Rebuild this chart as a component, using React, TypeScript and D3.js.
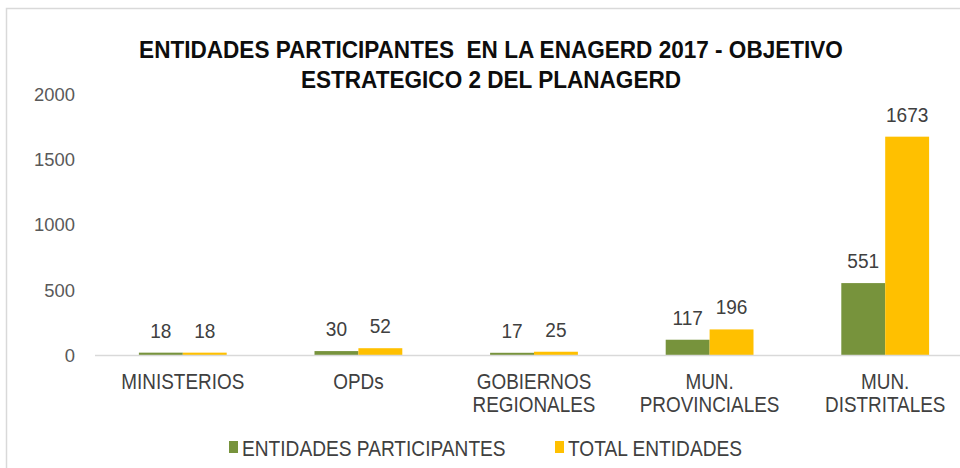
import { useEffect, useRef } from "react";
import * as d3 from "d3";

const categories = ["MINISTERIOS", "OPDs", "GOBIERNOS REGIONALES", "MUN. PROVINCIALES", "MUN. DISTRITALES"];
const categoryLines = [["MINISTERIOS"], ["OPDs"], ["GOBIERNOS", "REGIONALES"], ["MUN.", "PROVINCIALES"], ["MUN.", "DISTRITALES"]];
const participantes = [18, 30, 17, 117, 551];
const totales = [18, 52, 25, 196, 1673];
const yTicks = [0, 500, 1000, 1500, 2000];
const seriesNames = ["ENTIDADES PARTICIPANTES", "TOTAL ENTIDADES"];
const seriesColors = ["#77933C", "#FFC000"];
const titleLines = ["ENTIDADES PARTICIPANTES  EN LA ENAGERD 2017 - OBJETIVO", "ESTRATEGICO 2 DEL PLANAGERD"];

const FONT = "'Liberation Sans', Arial, sans-serif";

const App = () => {
  const svgRef = useRef(null);

  useEffect(() => {
    const svg = d3.select(svgRef.current);
    svg.selectAll("*").remove();

    const width = 960;

    // the source text is a bit narrow / tall, so squeeze it horizontally
    const squeezed = (x, y, sx) =>
      svg.append("g").attr("transform", `translate(${x},${y}) scale(${sx},1)`);

    // chart frame (runs off the right and bottom of the picture)
    svg.append("rect")
      .attr("x", 6.5).attr("y", 8.5)
      .attr("width", 1000).attr("height", 500)
      .attr("fill", "white")
      .attr("stroke", "#d9d9d9")
      .attr("stroke-width", 1.5);

    const x0 = d3.scaleBand().domain(categories).range([95, 973]).paddingInner(0.5).paddingOuter(0.25);
    const x1 = d3.scaleBand().domain(["p", "t"]).range([0, x0.bandwidth()]);
    const y = d3.scaleLinear().domain([0, 2000]).range([355, 94]);

    // title
    titleLines.forEach((line, i) => {
      squeezed(491, 58 + i * 30, 0.94)
        .append("text")
        .attr("text-anchor", "middle")
        .style("font-family", FONT)
        .style("font-size", "24px")
        .style("font-weight", "bold")
        .style("fill", "#0d0d0d")
        .style("white-space", "pre")
        .text(line);
    });

    // y tick labels (no gridlines)
    yTicks.forEach((d) => {
      squeezed(75, y(d), 0.97)
        .append("text")
        .attr("dy", "0.36em")
        .attr("text-anchor", "end")
        .style("font-family", FONT)
        .style("font-size", "19px")
        .style("fill", "#595959")
        .text(d);
    });

    // bars
    const groups = svg.append("g")
      .selectAll("g")
      .data(categories)
      .enter()
      .append("g")
      .attr("transform", (d) => `translate(${x0(d)},0)`);

    groups.each(function (d, i) {
      const g = d3.select(this);
      const vals = [
        { key: "p", value: participantes[i], color: seriesColors[0] },
        { key: "t", value: totales[i], color: seriesColors[1] },
      ];
      g.selectAll("rect")
        .data(vals)
        .enter()
        .append("rect")
        .attr("x", (v) => x1(v.key))
        .attr("y", (v) => y(v.value))
        .attr("width", x1.bandwidth())
        .attr("height", (v) => y(0) - y(v.value))
        .attr("fill", (v) => v.color);

      g.selectAll("g.val")
        .data(vals)
        .enter()
        .append("g")
        .attr("class", "val")
        .attr("transform", (v) => `translate(${x1(v.key) + x1.bandwidth() / 2},${y(v.value) - 15}) scale(0.93,1)`)
        .append("text")
        .attr("text-anchor", "middle")
        .style("font-family", FONT)
        .style("font-size", "20.5px")
        .style("fill", "#404040")
        .text((v) => v.value);
    });

    // baseline
    svg.append("line")
      .attr("x1", 95).attr("x2", width)
      .attr("y1", y(0) + 0.5).attr("y2", y(0) + 0.5)
      .attr("stroke", "#d9d9d9")
      .attr("stroke-width", 1.5);

    // category labels
    categories.forEach((c, i) => {
      categoryLines[i].forEach((line, j) => {
        squeezed(x0(c) + x0.bandwidth() / 2, 389 + j * 23, 0.86)
          .append("text")
          .attr("text-anchor", "middle")
          .style("font-family", FONT)
          .style("font-size", "22px")
          .style("fill", "#404040")
          .text(line);
      });
    });

    // legend
    const legendX = [229, 555];
    seriesNames.forEach((name, i) => {
      svg.append("rect")
        .attr("x", legendX[i])
        .attr("y", 441)
        .attr("width", 9)
        .attr("height", 12)
        .attr("fill", seriesColors[i]);
      squeezed(legendX[i] + 13, 456, 0.87)
        .append("text")
        .style("font-family", FONT)
        .style("font-size", "22px")
        .style("fill", "#404040")
        .text(name);
    });
  }, []);

  return (
    <div style={{ position: "absolute", left: 0, top: 0 }}>
      <svg ref={svgRef} width={960} height={468} style={{ display: "block" }}></svg>
    </div>
  );
};

export default App;
